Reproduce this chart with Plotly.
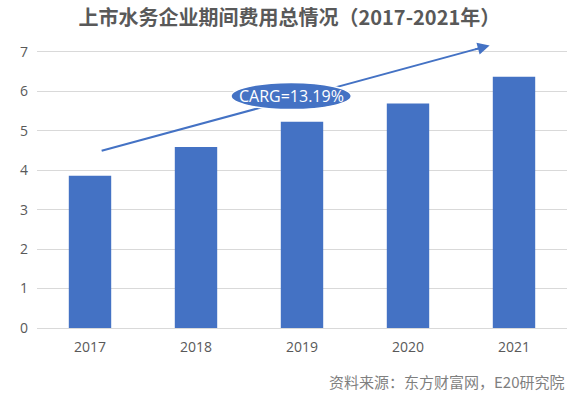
import plotly.graph_objects as go

years = ["2017", "2018", "2019", "2020", "2021"]
values = [3.86, 4.59, 5.23, 5.69, 6.37]
y_ticks = [0, 1, 2, 3, 4, 5, 6, 7]
title_text = "上市水务企业期间费用总情况（2017-2021年）"
cagr_text = "CARG=13.19%"
source_text = "资料来源：东方财富网，E20研究院"

blue = "#4472C4"
font_cn = "Noto Sans CJK SC, Microsoft YaHei, sans-serif"
font_num = "Open Sans, sans-serif"

fig = go.Figure()
fig.add_trace(go.Bar(x=list(range(len(years))), y=values, marker=dict(color=blue, line=dict(width=0)),
                     width=0.4, hoverinfo="y"))

# trend arrow (from near first bar to above last bar)
x0, y0 = 0.11, 4.49
x1, y1 = 3.77, 7.16
fig.add_shape(type="line", xref="x", yref="y", x0=x0, y0=y0, x1=x1 - 0.05, y1=y1 - 0.036,
              line=dict(color=blue, width=2), layer="above")
fig.add_annotation(xref="x", yref="y", x=x1, y=y1, axref="x", ayref="y",
                   ax=x1 - 0.15, ay=y1 - 0.11, showarrow=True, arrowhead=2,
                   arrowsize=1.2, arrowwidth=2, arrowcolor=blue, text="", standoff=0)
# CAGR ellipse
fig.add_shape(type="circle", xref="paper", yref="paper",
              x0=0.366, x1=0.593, y0=0.748, y1=0.841,
              fillcolor=blue, line=dict(color="white", width=1.5), layer="above")
fig.add_annotation(xref="paper", yref="paper", x=0.4795, y=0.7945, text=cagr_text,
                   showarrow=False, yanchor="middle",
                   font=dict(family=font_num, size=16, color="white"))

fig.add_annotation(xref="paper", yref="paper", x=1.0, y=-0.182, xanchor="right", yanchor="middle",
                   text=source_text, showarrow=False,
                   font=dict(family=font_cn, size=15, color="#7f7f7f"))

fig.update_layout(
    width=573, height=395,
    margin=dict(l=37, r=6, t=36, b=67),
    paper_bgcolor="white", plot_bgcolor="white",
    showlegend=False,
    title=dict(text="<b>" + title_text + "</b>", x=0.505, xanchor="center", y=0.955, yanchor="middle",
               font=dict(family=font_cn, size=20, color="#595959")),
    xaxis=dict(tickmode="array", tickvals=list(range(len(years))), ticktext=years,
               range=[-0.5, len(years) - 0.5], showgrid=False, showline=True,
               linecolor="#d9d9d9", linewidth=1, ticks="", zeroline=False,
               ticklabelstandoff=6,
               tickfont=dict(family=font_num, size=14, color="#595959")),
    yaxis=dict(range=[0, 7.4], tickvals=y_ticks, showgrid=True, gridcolor="#d9d9d9",
               gridwidth=1, zeroline=False, showline=False, ticks="",
               ticklabelstandoff=8,
               tickfont=dict(family=font_num, size=14, color="#595959")),
)

fig.write_html("out.html", config={"displayModeBar": False},
               post_script="document.body.style.margin='0';")
